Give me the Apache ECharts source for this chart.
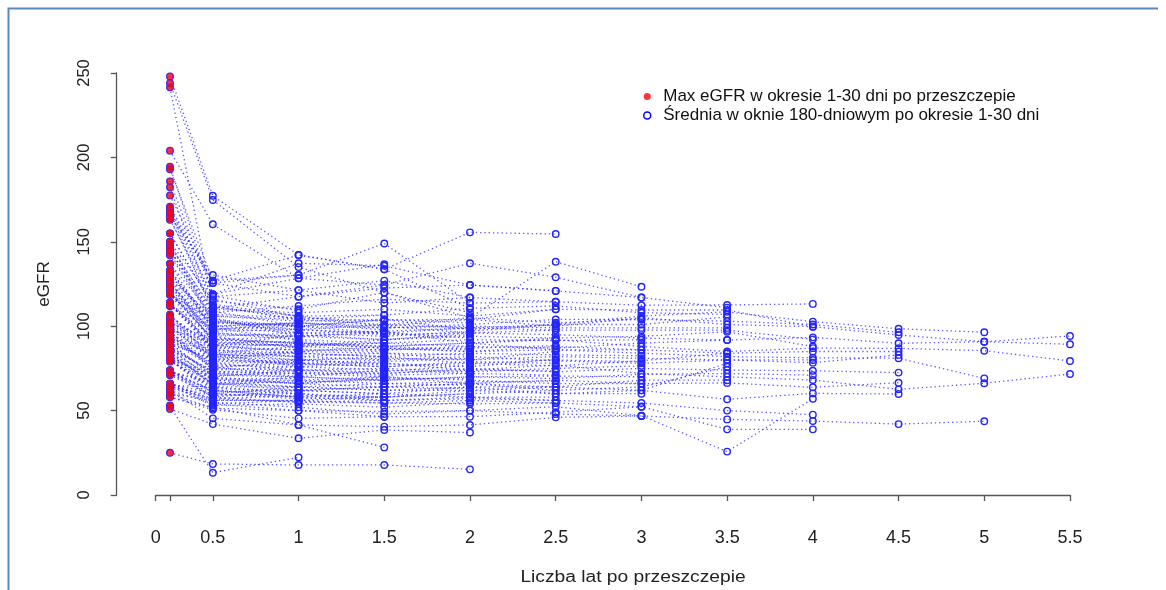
<!DOCTYPE html>
<html><head><meta charset="utf-8">
<script src="https://cdn.jsdelivr.net/npm/echarts@6/dist/echarts.min.js"></script>
<style>html,body{margin:0;padding:0;background:#fff}#c{width:1166px;height:590px}</style>
</head><body><div id="c"></div>
<script>
// x positions of the measurement columns (first = 1-30 day max, drawn at the unlabeled tick)
const xPositions = [0.25, 0.5, 1, 1.5, 2, 2.5, 3, 3.5, 4, 4.5, 5, 5.5];
const xTickValues = [1/6, 0.25, 0.5, 1, 1.5, 2, 2.5, 3, 3.5, 4, 4.5, 5, 5.5];
const xLabelValues = [1/6, 0.5, 1, 1.5, 2, 2.5, 3, 3.5, 4, 4.5, 5, 5.5];
const xLabelTexts = ['0', '0.5', '1', '1.5', '2', '2.5', '3', '3.5', '4', '4.5', '5', '5.5'];
const yTickValues = [0, 50, 100, 150, 200, 250];
const nameMax = 'Max eGFR w okresie 1-30 dni po przeszczepie';
const nameMean = 'Średnia w oknie 180-dniowym po okresie 1-30 dni';

// patients followed to 5.5 years
const follow55 = [
  [125, 98, 102, 100, 104, 100, 105, 101, 99.7, 94.8, 90.8, 94.2],
  [113, 88, 95, 92, 96, 95, 93, 91.8, 93.4, 89.9, 90.8, 89.3],
  [145, 105, 94, 97, 90, 92, 88, 85, 87, 86.9, 85.5, 79.4],
  [95, 75, 80, 78, 74, 77, 72, 70, 68.1, 62.6, 66.2, 71.7]
];
// followed to 5 years
const follow50 = [
  [130, 102, 100, 104, 98, 101, 106, 108.5, 102.7, 98.5, 96.4],
  [100, 80, 85, 88, 90, 86, 84, 82, 81.3, 81, 69.1],
  [62, 45.4, 41.5, 40.5, 41.5, 46, 46.8, 44.8, 43.8, 42, 43.7]
];
// followed to 4.5 years
const follow45 = [
  [155, 112, 104, 101, 105, 102, 104, 103, 101, 96.4],
  [120, 92, 90, 87, 85, 88, 86, 84, 85, 85],
  [105, 85, 82, 84, 80, 82, 81, 80, 78.4, 83],
  [90, 70, 74, 72, 75, 73, 75, 74, 73.6, 72.5],
  [85, 65, 68, 70, 66, 68, 66, 66.4, 63.8, 66.5],
  [74, 58, 62, 60, 64, 60, 62, 56.7, 60.2, 59.8]
];
// followed to 4 years
const follow40 = [
  [165, 130.3, 121.4, 113.7, 117, 114.5, 112.4, 112.6, 113.2],
  [147, 110, 108, 110, 106, 110, 109.6, 109.6, 99.7],
  [128, 100, 98, 96, 99, 97.7, 97.7, 97.7, 92.2],
  [114, 90, 88, 92, 94, 93, 94, 96.7, 88],
  [98, 82, 78, 80, 82, 79.5, 78, 80, 80],
  [88, 72, 70, 68, 70, 69, 71.5, 72, 71],
  [80, 62, 58, 56, 58, 56, 54.5, 50, 47.6],
  [66, 55, 52, 48, 50, 52.3, 47, 25.7, 57],
  [58, 50.5, 45.4, 46.4, 46.4, 49, 52.3, 38.9, 38.9]
];
// followed to 3.5 years
const follow35 = [
  [177.5, 125.6, 117.5, 122.6, 124.4, 120.9, 117, 111],
  [137, 106, 104, 106.6, 110.6, 112, 108, 107],
  [112, 94, 96, 94, 97, 101, 101, 105.5],
  [119, 103, 100, 99, 100, 99, 99, 99],
  [102, 84, 88, 86, 88, 87, 90, 91.8],
  [93, 76, 78, 76, 78, 76.5, 79.5, 84],
  [87, 68, 66, 64, 66, 64, 68, 68],
  [80, 60, 64, 62, 62, 64, 62, 78],
  [65, 54, 56, 58, 60, 62, 64, 76]
];
// followed to 3 years
const follow30 = [
  [204, 160.4, 128.4, 124.4, 137.3, 129, 117],
  [150, 115, 110, 120, 105, 138.2, 123.4],
  [125, 100, 102, 99, 101, 104, 104],
  [119, 96, 92, 90, 92, 91.5, 92],
  [106, 86, 84, 82, 84, 83, 82.5],
  [102, 92, 90, 87, 85, 86, 86],
  [96, 78, 74, 75, 73, 75, 76.5],
  [93, 84, 80, 82, 78, 80, 79],
  [84, 66, 70, 68, 70, 70.5, 70],
  [82, 70, 66, 70, 68, 66, 66],
  [73, 62, 60, 58, 62, 60, 60],
  [72, 58, 55, 54.5, 56, 54.5, 52.3],
  [60, 51.4, 50, 49.4, 50, 48, 46.8]
];
// followed to 2.5 years
const follow25 = [
  [168, 127, 142.2, 133.7, 155.6, 154.6],
  [194.5, 119, 137.3, 135.8, 124.4, 120.9],
  [145, 108, 112, 116, 113.7, 114.5],
  [130, 104, 100, 103.7, 104, 110],
  [122, 97, 98, 95, 96, 97.7],
  [112, 99, 96, 97, 99, 101],
  [119, 93, 90, 88, 90, 93],
  [106, 87, 86, 86, 87, 88.5],
  [100, 82, 80, 81, 80, 85],
  [94, 77, 76, 78, 76, 80.5],
  [90, 80, 78, 76, 79, 78],
  [88, 73, 72, 72, 74, 73.5],
  [84, 71, 70, 74, 72, 71],
  [82, 68, 68, 66, 67, 67.5],
  [80, 64, 64, 62, 64, 64],
  [73, 66, 62, 64, 66, 62],
  [72, 60, 58, 60, 58, 58],
  [71, 59, 60, 56, 57, 56],
  [66, 56, 56, 54.5, 54, 54.5]
];
// followed to 2 years
const follow20 = [
  [170, 117.5, 121.4, 127, 117],
  [248, 177.3, 142.2, 133.7, 110.6],
  [244, 174.8, 135, 120, 108],
  [241.5, 113, 106, 100, 96],
  [193, 127, 130.3, 149, 113.7],
  [142, 103, 98, 101, 99],
  [128, 106, 103, 104, 102],
  [126, 95, 94, 92, 95],
  [119, 98, 100, 96, 93],
  [114, 89, 89, 90, 88],
  [104, 83, 85, 84, 83],
  [98, 90, 91, 88, 86],
  [92, 75, 74, 73, 77],
  [89, 81, 77, 79, 81],
  [86, 69, 66, 69, 69],
  [80, 72, 73, 71, 72],
  [74, 61, 62, 64, 63],
  [73, 67, 64, 66, 65],
  [65, 53, 54, 52, 55],
  [63, 57, 59, 58, 60],
  [51, 42, 33.6, 38.5, 37],
  [25, 18.4, 17.8, 17.8, 15.2]
];
// followed to 1.5 years
const follow15 = [
  [58, 52, 41.5, 28.2],
  [185.8, 119, 128.4, 136.7],
  [182.3, 110.6, 117.5, 124.4],
  [164, 111, 106, 106.6],
  [145, 107, 105, 103],
  [133, 100, 102, 97.7],
  [124, 96, 94, 96],
  [120, 91, 88, 90],
  [113, 86, 82, 80],
  [106, 88, 86, 85],
  [100, 79, 80, 77],
  [96, 82, 84, 82],
  [90, 71, 72, 70],
  [86, 74, 76, 74],
  [81, 66, 67, 68],
  [80, 63, 62, 60],
  [66, 57, 55, 56],
  [66, 60, 57, 58],
  [62, 54, 50, 46.4]
];
// followed to 1 year
const follow10 = [
  [167, 118, 109.2],
  [170.8, 125.6, 130.3],
  [163, 116, 105.6],
  [155, 112, 104],
  [148, 109, 100],
  [143, 104, 96],
  [133, 102, 101],
  [132, 99, 92],
  [124, 94, 87],
  [121, 92, 94],
  [113, 89, 84],
  [113, 87, 90],
  [103, 84, 76],
  [101, 83, 82],
  [95, 76, 70],
  [92, 78, 79],
  [87, 73, 74],
  [83, 66, 64],
  [81, 69, 69],
  [72, 62, 58],
  [65, 64, 60],
  [60, 56, 56],
  [52.5, 13.2, 22.3]
];
// followed to 0.5 year
const follow05 = [
  [168, 108], [150, 101], [137, 97], [128, 90], [119, 86],
  [107, 80], [97, 74], [79, 67], [64, 59]
];
// only the 1-30 day maximum
const followMaxOnly = [[166], [146], [132], [118.5], [85], [60], [53]];

const groups = [follow55, follow50, follow45, follow40, follow35, follow30, follow25, follow20, follow15, follow10, follow05, followMaxOnly];
const trajectories = [].concat(...groups);

const FONT = 'Liberation Sans, Arial, sans-serif';
const blueLine = 'rgba(40,40,255,0.78)';
const blueCircle = '#2424ff';

const series = trajectories.map(t => ({
  type: 'line',
  name: nameMean,
  data: t.map((v, i) => [xPositions[i], v]),
  symbol: 'circle',
  symbolSize: 6.5,
  showSymbol: true,
  silent: true,
  animation: false,
  itemStyle: { color: 'rgba(0,0,0,0)', borderColor: blueCircle, borderWidth: 1.4 },
  lineStyle: { color: blueLine, width: 1.3, type: [1.3, 3] },
  emphasis: { disabled: true },
  z: 2
}));
series.push({
  type: 'scatter',
  name: nameMax,
  data: trajectories.map(t => [xPositions[0], t[0]]),
  symbol: 'circle',
  symbolSize: 6.5,
  itemStyle: { color: '#ff0000', borderColor: 'rgba(90,60,255,0.5)', borderWidth: 0.8 },
  silent: true,
  animation: false,
  z: 5
});

const chart = echarts.init(document.getElementById('c'), null, { renderer: 'canvas' });
chart.setOption({
  animation: false,
  backgroundColor: '#ffffff',
  grid: { left: 155.7, right: 96, top: 73, bottom: 95, containLabel: false },
  legend: {
    orient: 'vertical',
    left: 638,
    top: 83,
    itemWidth: 22,
    itemHeight: 7,
    itemGap: 2,
    selectedMode: false,
    textStyle: { fontFamily: FONT, fontSize: 17, color: '#111', lineHeight: 17 },
    data: [
      { name: nameMax, icon: 'circle', itemStyle: { color: '#ff0000', borderWidth: 0 } },
      { name: nameMean, icon: 'circle', itemStyle: { color: 'rgba(0,0,0,0)', borderColor: '#0000ff', borderWidth: 1.5 } }
    ]
  },
  xAxis: {
    type: 'value',
    min: 1/6,
    max: 5.5,
    offset: 17,
    axisLine: { show: true, lineStyle: { color: '#555', width: 1.3 } },
    axisTick: { show: true, length: 6, customValues: xTickValues, lineStyle: { color: '#555', width: 1.3 } },
    axisLabel: {
      customValues: xLabelValues,
      formatter: v => xLabelTexts[xLabelValues.findIndex(x => Math.abs(x - v) < 1e-6)],
      fontFamily: FONT, fontSize: 18, color: '#222', margin: 17
    },
    splitLine: { show: false }
  },
  yAxis: {
    type: 'value',
    min: 0,
    max: 250,
    interval: 50,
    offset: 39,
    name: 'eGFR',
    nameLocation: 'middle',
    nameGap: 64,
    nameTextStyle: { fontFamily: FONT, fontSize: 17, color: '#222' },
    axisLine: { show: true, lineStyle: { color: '#555', width: 1.3 } },
    axisTick: { show: true, length: 6, lineStyle: { color: '#555', width: 1.3 } },
    axisLabel: { rotate: 90, fontFamily: FONT, fontSize: 16.5, color: '#222', margin: 24,
      formatter: v => String(yTickValues[yTickValues.indexOf(v)]) },
    splitLine: { show: false }
  },
  graphic: [
    { type: 'text', x: 633, y: 578, scaleX: 1.2, silent: true,
      style: { text: 'Liczba lat po przeszczepie', font: '16px ' + FONT, fill: '#222', align: 'center', verticalAlign: 'middle' } },
    { type: 'polyline', silent: true,
      shape: { points: [[8.5, 600], [8.5, 8.5], [1158, 8.5]] },
      style: { stroke: '#5a86c4', lineWidth: 2, fill: null } }
  ],
  series: series
});
</script>
</body></html>
